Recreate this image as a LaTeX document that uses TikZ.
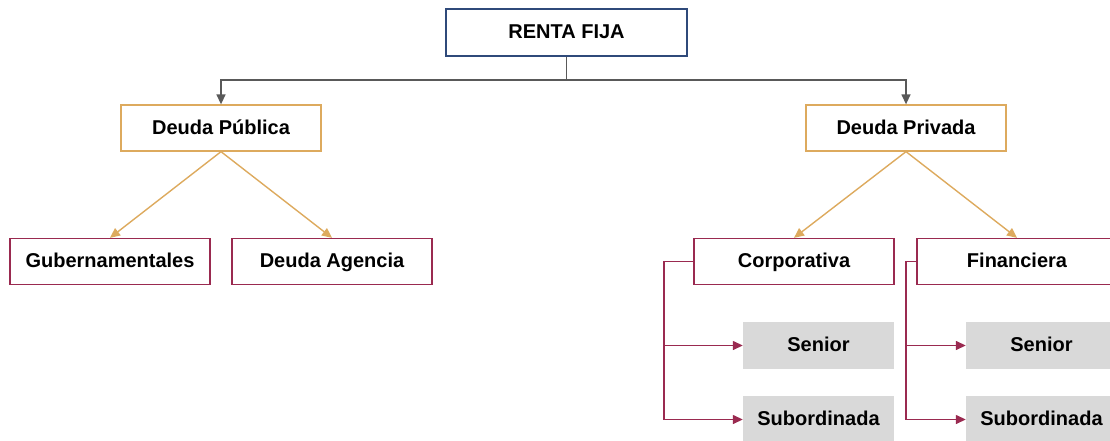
\documentclass[tikz,border=0pt]{standalone}
\usepackage{fontspec}
\setmainfont{Liberation Sans}
\usetikzlibrary{arrows.meta}
\definecolor{navy}{HTML}{2F4A7A}
\definecolor{gold}{HTML}{DDAA5E}
\definecolor{maroon}{HTML}{9A2A50}
\definecolor{linegray}{HTML}{595959}
\definecolor{boxgray}{HTML}{D9D9D9}
\begin{document}
\begin{tikzpicture}[x=1pt,y=-1pt,
  font=\fontsize{20}{23}\selectfont\bfseries,
  box/.style={draw, fill=white, minimum width=200pt, minimum height=46pt, inner sep=0pt, text height=14pt, text depth=1.5pt, line width=1.3pt},
  topbox/.style={box, draw=navy, minimum width=241pt, minimum height=47pt},
  goldbox/.style={box, draw=gold},
  maroonbox/.style={box, draw=maroon},
  graybox/.style={fill=boxgray, minimum width=151pt, minimum height=47pt, inner sep=0pt, text height=14pt, text depth=1.5pt},
  grayconn/.style={draw=linegray, line width=1.4pt, -{Triangle[width=9pt,length=10pt]}},
  goldconn/.style={draw=gold, line width=1.4pt, -{Triangle[width=9pt,length=10pt]}},
  maroonconn/.style={draw=maroon, line width=1.4pt, -{Triangle[width=9pt,length=10pt]}}]
\useasboundingbox (0,0) rectangle (1110,441);
\clip (0,0) rectangle (1110,441);

\node[topbox] (rf) at (566.5,32.5) {RENTA FIJA};
\node[goldbox] (dpub) at (221,128) {Deuda Pública};
\node[goldbox] (dpriv) at (906,128) {Deuda Privada};
\node[maroonbox] (gub) at (110,261.5) {Gubernamentales};
\node[maroonbox] (dag) at (332,261.5) {Deuda Agencia};
\node[maroonbox] (corp) at (794,261.5) {Corporativa};
\node[maroonbox] (fin) at (1017,261.5) {Financiera};
\node[graybox] (sen1) at (818.5,345.5) {Senior};
\node[graybox] (sub1) at (818.5,419.5) {Subordinada};
\node[graybox] (sen2) at (1041.5,345.5) {Senior};
\node[graybox] (sub2) at (1041.5,419.5) {Subordinada};

\coordinate (rfj) at (566.5,80);
\coordinate (cj) at (664,261.5);
\coordinate (fj) at (906,261.5);

\draw[grayconn] (rf.south) -- (rfj) -| (dpub.north);
\draw[grayconn] (rf.south) -- (rfj) -| (dpriv.north);

\draw[goldconn] (dpub.south) -- (gub.north);
\draw[goldconn] (dpub.south) -- (dag.north);
\draw[goldconn] (dpriv.south) -- (corp.north);
\draw[goldconn] (dpriv.south) -- (fin.north);

\draw[maroonconn] (corp.west) -- (cj) |- (sen1.west);
\draw[maroonconn] (corp.west) -- (cj) |- (sub1.west);
\draw[maroonconn] (fin.west) -- (fj) |- (sen2.west);
\draw[maroonconn] (fin.west) -- (fj) |- (sub2.west);
\end{tikzpicture}
\end{document}
